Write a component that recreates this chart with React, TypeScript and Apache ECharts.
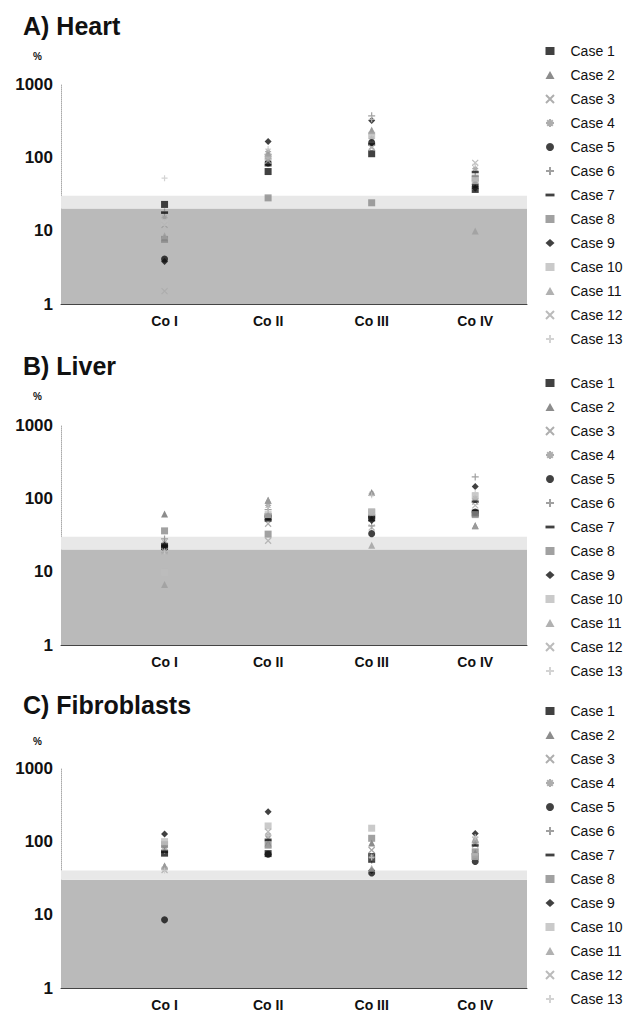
import React, { useEffect, useRef } from "react";
import * as echarts from "echarts";

const CASES = ["Case 1", "Case 2", "Case 3", "Case 4", "Case 5", "Case 6", "Case 7", "Case 8", "Case 9", "Case 10", "Case 11", "Case 12", "Case 13"];
const CATEGORIES = ["Co I", "Co II", "Co III", "Co IV"];
const Y_TICKS = [1, 10, 100, 1000];

// values per case: [Co I, Co II, Co III, Co IV]
const HEART = [
  [22.8, 64, 112, 36.5],
  [8, 105, 230, 40],
  [12, 95, 140, 45],
  [15, 120, 180, 70],
  [4.1, 84, 159, 42.4],
  [18, 110, 368, 55],
  [17.6, 78, 150, 63],
  [7.6, 28, 24, 52],
  [3.8, 165, 318, 38],
  [12.9, 100, 200, 48],
  [8.5, 115, 235, 9.9],
  [1.5, 90, 135, 84],
  [52, 130, 330, 80],
];
const LIVER = [
  [22, 56, 54, 63],
  [61, 94, 120, 42.5],
  [20, 45, 60, 90],
  [25, 80, 115, 100],
  [21, 56, 33, 65],
  [28, 70, 42, 196],
  [22.5, 50, 55, 90],
  [36, 32.5, 65, 60],
  [23, 58, 50, 145],
  [9.8, 60, 65, 108],
  [6.7, 94, 23, 42],
  [19, 26.4, 40, 80],
  [19, 75, 110, 120],
];
const FIBRO = [
  [69, 68, 62, 62],
  [46, 95, 95, 70],
  [80, 110, 76, 90],
  [85, 120, 62, 100],
  [8.5, 66.5, 37, 53],
  [75, 100, 55, 95],
  [72, 105, 53, 88],
  [90, 89, 110, 72],
  [126, 254, 40, 128],
  [99, 162, 151, 62],
  [46, 90, 43, 110],
  [40.7, 135, 76, 105],
  [40, 120, 60, 115],
];
const PANEL_TITLES = ["A) Heart", "B) Liver", "C) Fibroblasts"];
// shaded bands: [dark upper limit, light upper limit]
const BANDS = [
  [20, 30],
  [20, 30],
  [30, 40],
];

const XP = "path://M0,0L10,10M10,0L0,10";
const PLUS = "path://M5,0L5,10M0,5L10,5";
const AST = "path://M5,0L5,10M0,5L10,5M1.5,1.5L8.5,8.5M8.5,1.5L1.5,8.5";
const DASH = "path://M0,0H8V2.5H0Z";

const STYLES: any[] = [
  { symbol: "rect", size: 7, color: "#111" },
  { symbol: "triangle", size: 7, color: "#6f6f6f" },
  { symbol: XP, size: 6, stroke: "#9a9a9a" },
  { symbol: AST, size: 6, stroke: "#999" },
  { symbol: "circle", size: 7, color: "#111" },
  { symbol: PLUS, size: 7, stroke: "#888" },
  { symbol: "rect", size: [7, 2.5], color: "#111", legendIcon: DASH },
  { symbol: "rect", size: 7, color: "#8a8a8a" },
  { symbol: "diamond", size: 7, color: "#111" },
  { symbol: "rect", size: 7, color: "#bdbdbd" },
  { symbol: "triangle", size: 7, color: "#9d9d9d" },
  { symbol: XP, size: 6, stroke: "#aaa" },
  { symbol: PLUS, size: 6, stroke: "#c8c8c8" },
];

const FONT = "Liberation Sans, Arial, sans-serif";
const GRID_TOPS = [84, 425, 768];
const TITLE_TOPS = [13, 353, 692];
const PCT_TOPS = [51, 391, 736];
const LEGEND_TOPS = [44, 376, 704];

export default function App() {
  const ref = useRef<HTMLDivElement>(null);
  useEffect(() => {
    if (!ref.current) return;
    const chart = echarts.init(ref.current, undefined, { renderer: "svg" });
    const datasets = [HEART, LIVER, FIBRO];
    const grids: any[] = [];
    const xAxes: any[] = [];
    const yAxes: any[] = [];
    const series: any[] = [];
    const legends: any[] = [];
    const titles: any[] = [];
    datasets.forEach((ds, p) => {
      grids.push({ left: 61, width: 466, top: GRID_TOPS[p], height: 220 });
      xAxes.push({
        type: "value",
        gridIndex: p,
        min: 0,
        max: 4.5,
        interval: 1,
        axisLine: { show: true, lineStyle: { color: "#444", width: 1 } },
        axisTick: { show: false },
        splitLine: { show: false },
        axisLabel: {
          showMaxLabel: false,
          margin: 10,
          fontFamily: FONT,
          fontWeight: "bold",
          fontSize: 14,
          color: "#111",
          formatter: (v: number) => CATEGORIES[v - 1] ?? "",
        },
      });
      yAxes.push({
        type: "log",
        logBase: 10,
        gridIndex: p,
        min: Y_TICKS[0],
        max: Y_TICKS[Y_TICKS.length - 1],
        axisLine: { show: true, lineStyle: { color: "#aaa", type: "dotted", width: 1 } },
        axisTick: { show: false },
        splitLine: { show: false },
        axisLabel: {
          margin: 8,
          fontFamily: FONT,
          fontWeight: "bold",
          fontSize: 17,
          color: "#111",
          formatter: (v: number) => String(Math.round(v)),
        },
      });
      ds.forEach((vals, c) => {
        const st = STYLES[c];
        const itemStyle = st.stroke
          ? { color: "rgba(0,0,0,0)", borderColor: st.stroke, borderWidth: 1.2 }
          : { color: st.color };
        const s: any = {
          type: "scatter",
          name: CASES[c],
          xAxisIndex: p,
          yAxisIndex: p,
          symbol: st.symbol,
          symbolSize: st.size,
          itemStyle,
          data: vals.map((v, i) => [i + 1, v]),
          z: 3,
        };
        if (c === 0) {
          s.markArea = {
            silent: true,
            z: 1,
            data: [
              [{ yAxis: 1, itemStyle: { color: "#bababa" } }, { yAxis: BANDS[p][0] }],
              [{ yAxis: BANDS[p][0], itemStyle: { color: "#e8e8e8" } }, { yAxis: BANDS[p][1] }],
            ],
          };
        }
        series.push(s);
      });
      legends.push({
        orient: "vertical",
        left: 545,
        top: LEGEND_TOPS[p],
        padding: 0,
        itemWidth: 9,
        itemHeight: 8,
        itemGap: 10,
        selectedMode: false,
        data: CASES.map((n, i) => (STYLES[i].legendIcon ? { name: n, icon: STYLES[i].legendIcon } : { name: n })),
        textStyle: { fontFamily: FONT, fontSize: 14, color: "#111", lineHeight: 14, padding: [0, 0, 0, 11] },
      });
      titles.push({
        text: PANEL_TITLES[p],
        left: 23,
        top: TITLE_TOPS[p],
        padding: 0,
        textStyle: { fontFamily: FONT, fontWeight: "bold", fontSize: 25, color: "#111" },
      });
      titles.push({
        text: "%",
        left: 33,
        top: PCT_TOPS[p],
        padding: 0,
        textStyle: { fontFamily: FONT, fontWeight: "bold", fontSize: 10, color: "#111" },
      });
    });
    chart.setOption({
      animation: false,
      backgroundColor: "#fff",
      title: titles,
      grid: grids,
      xAxis: xAxes,
      yAxis: yAxes,
      legend: legends,
      series,
    });
    return () => chart.dispose();
  }, []);
  return <div ref={ref} style={{ position: "absolute", left: 0, top: 0, width: 629, height: 1026 }} />;
}
